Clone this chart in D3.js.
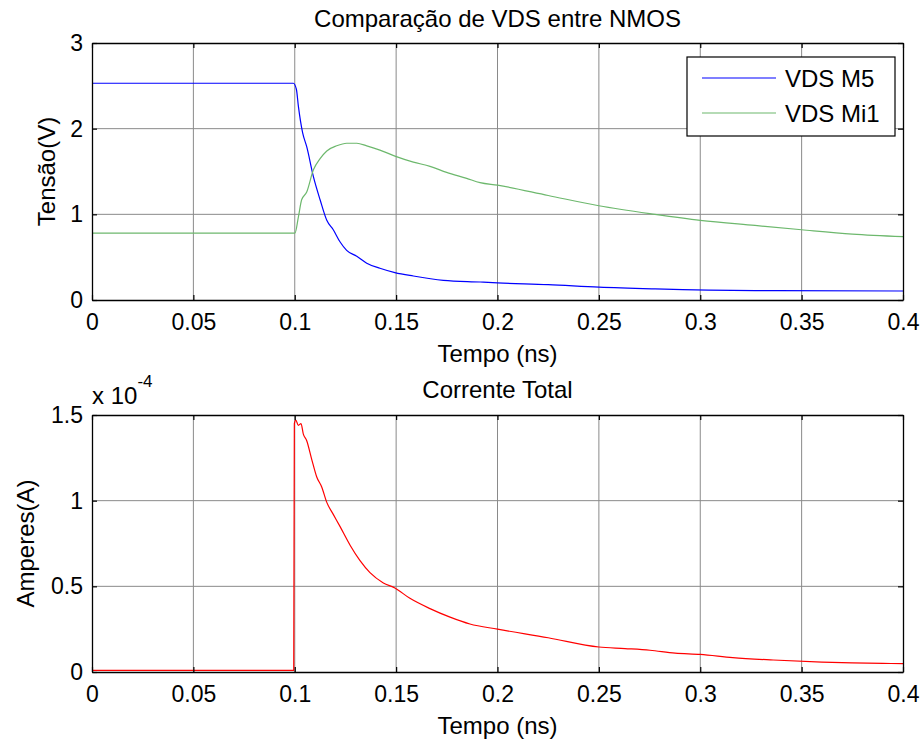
<!DOCTYPE html>
<html>
<head>
<meta charset="utf-8">
<script src="https://cdn.jsdelivr.net/npm/d3@7"></script>
<style>
  body { margin: 0; background: #fff; }
  svg text { font-family: "Liberation Sans", Arial, sans-serif; fill: #000; }
</style>
</head>
<body>
<div id="chart"></div>
<script>
// Werte
const xTicks = [0, 0.05, 0.1, 0.15, 0.2, 0.25, 0.3, 0.35, 0.4];
const yTicksTop = [0, 1, 2, 3];
const yTicksBottom = [0, 0.5, 1, 1.5];

const tM5 = [0, 0.0993, 0.1008, 0.1018, 0.1039, 0.1059, 0.1092, 0.1125, 0.1158, 0.119, 0.1223, 0.1256, 0.1306, 0.1355, 0.142, 0.1494, 0.1585, 0.1733, 0.1914, 0.2, 0.225, 0.25, 0.2777, 0.327, 0.4];
const vM5 = [2.53, 2.53, 2.46, 2.26, 1.95, 1.79, 1.44, 1.17, 0.93, 0.82, 0.68, 0.58, 0.51, 0.43, 0.37, 0.32, 0.28, 0.23, 0.21, 0.2, 0.18, 0.15, 0.13, 0.11, 0.105];

const tMi1 = [0, 0.1001, 0.1018, 0.1034, 0.1059, 0.1092, 0.1125, 0.1158, 0.1207, 0.1256, 0.1306, 0.1355, 0.142, 0.1494, 0.1585, 0.1667, 0.1749, 0.1848, 0.1914, 0.2, 0.225, 0.25, 0.2777, 0.3, 0.327, 0.35, 0.375, 0.4];
const vMi1 = [0.78, 0.78, 0.97, 1.17, 1.26, 1.52, 1.65, 1.74, 1.80, 1.83, 1.83, 1.80, 1.75, 1.68, 1.61, 1.56, 1.49, 1.42, 1.37, 1.34, 1.22, 1.10, 1.0, 0.93, 0.87, 0.82, 0.77, 0.74];

// Strom in Einheiten von 1e-4 A
const tCur = [0, 0.0995, 0.0998, 0.1005, 0.1018, 0.1031, 0.1042, 0.1059, 0.1084, 0.1108, 0.1133, 0.1158, 0.119, 0.1223, 0.1273, 0.1322, 0.1371, 0.1437, 0.1494, 0.1568, 0.1667, 0.1766, 0.1864, 0.2, 0.225, 0.25, 0.2629, 0.2752, 0.2876, 0.3, 0.316, 0.336, 0.36, 0.39, 0.4];
const vCur = [0.01, 0.01, 1.45, 1.47, 1.44, 1.45, 1.39, 1.35, 1.24, 1.14, 1.08, 0.99, 0.92, 0.85, 0.74, 0.65, 0.58, 0.52, 0.49, 0.43, 0.37, 0.32, 0.28, 0.25, 0.2, 0.146, 0.137, 0.127, 0.11, 0.103, 0.084, 0.07, 0.058, 0.05, 0.049];

const width = 923, height = 743;
const left = 92, right = 903;
const fontSize = 24;
const tickFont = 23;

const svg = d3.select("#chart")
  .append("svg")
  .attr("width", width)
  .attr("height", height);

const xScale = d3.scaleLinear().domain([0, 0.4]).range([left, right]);

const zip = (ts, vs) => ts.map((t, i) => ({ t, v: vs[i] }));

const drawPanel = (cfg) => {
  const yScale = d3.scaleLinear().domain(cfg.yDomain).range([cfg.bottom, cfg.top]);
  const g = svg.append("g");

  // Gitterlinien
  g.append("g").selectAll("line")
    .data(xTicks.slice(1, -1))
    .join("line")
    .attr("x1", d => xScale(d)).attr("x2", d => xScale(d))
    .attr("y1", cfg.top).attr("y2", cfg.bottom)
    .attr("stroke", "#8a8a8a").attr("stroke-width", 1);
  g.append("g").selectAll("line")
    .data(cfg.yTicks.slice(1, -1))
    .join("line")
    .attr("x1", left).attr("x2", right)
    .attr("y1", d => yScale(d)).attr("y2", d => yScale(d))
    .attr("stroke", "#8a8a8a").attr("stroke-width", 1);

  // Kurven
  const line = d3.line().x(d => xScale(d.t)).y(d => yScale(d.v)).curve(d3.curveMonotoneX);
  cfg.series.forEach(s => {
    g.append("path")
      .attr("d", line(s.data))
      .attr("fill", "none")
      .attr("stroke", s.color)
      .attr("stroke-width", 1.2);
  });

  // Achsen, Ticks nach innen wie in MATLAB
  const bottomAxis = d3.axisBottom(xScale).tickValues(xTicks).tickSizeInner(-5).tickSizeOuter(0)
    .tickPadding(14).tickFormat(d3.format("~g"));
  const topAxis = d3.axisTop(xScale).tickValues(xTicks).tickSizeInner(-5).tickSizeOuter(0).tickFormat("");
  const leftAxis = d3.axisLeft(yScale).tickValues(cfg.yTicks).tickSizeInner(-5).tickSizeOuter(0)
    .tickPadding(9).tickFormat(d3.format("~g"));
  const rightAxis = d3.axisRight(yScale).tickValues(cfg.yTicks).tickSizeInner(-5).tickSizeOuter(0).tickFormat("");

  const axes = [
    g.append("g").attr("transform", `translate(0,${cfg.bottom})`).call(bottomAxis),
    g.append("g").attr("transform", `translate(0,${cfg.top})`).call(topAxis),
    g.append("g").attr("transform", `translate(${left},0)`).call(leftAxis),
    g.append("g").attr("transform", `translate(${right},0)`).call(rightAxis)
  ];
  axes.forEach(a => {
    a.select(".domain").attr("stroke", "#000").attr("stroke-width", 1.3);
    a.selectAll(".tick line").attr("stroke", "#000").attr("stroke-width", 1.2);
    a.selectAll("text").attr("font-size", tickFont).attr("fill", "#000")
      .attr("font-family", "Liberation Sans, Arial, sans-serif");
  });

  // Titel und Beschriftungen
  g.append("text")
    .attr("x", (left + right) / 2).attr("y", cfg.titleY)
    .attr("text-anchor", "middle").attr("font-size", fontSize)
    .text(cfg.title);
  g.append("text")
    .attr("x", (left + right) / 2).attr("y", cfg.bottom + 62)
    .attr("text-anchor", "middle").attr("font-size", fontSize)
    .text("Tempo (ns)");
  g.append("text")
    .attr("transform", `translate(${cfg.yLabelX},${(cfg.top + cfg.bottom) / 2}) rotate(-90)`)
    .attr("text-anchor", "middle").attr("font-size", fontSize)
    .text(cfg.yLabel);

  return yScale;
};

drawPanel({
  top: 43, bottom: 300, yDomain: [0, 3], yTicks: yTicksTop,
  title: "Comparação de VDS entre NMOS", titleY: 27, yLabel: "Tensão(V)", yLabelX: 55,
  series: [
    { data: zip(tM5, vM5), color: "#0000ff" },
    { data: zip(tMi1, vMi1), color: "#6db86d" }
  ]
});

drawPanel({
  top: 415, bottom: 672, yDomain: [0, 1.5], yTicks: yTicksBottom,
  title: "Corrente Total", titleY: 398, yLabel: "Amperes(A)", yLabelX: 34,
  series: [
    { data: zip(tCur, vCur), color: "#ff0000" }
  ]
});

// Exponent oberhalb der unteren Achse
const expo = svg.append("text").attr("x", 92).attr("y", 404).attr("font-size", fontSize);
expo.append("tspan").text("x 10");
expo.append("tspan").attr("dy", -17).attr("font-size", 17).text("-4");

// Legende
const legendItems = [
  { label: "VDS M5", color: "#0000ff" },
  { label: "VDS Mi1", color: "#6db86d" }
];
const legend = svg.append("g");
legend.append("rect")
  .attr("x", 687).attr("y", 57).attr("width", 208).attr("height", 79)
  .attr("fill", "#fff").attr("stroke", "#000").attr("stroke-width", 1.2);
legend.selectAll("g")
  .data(legendItems)
  .join("g")
  .attr("transform", (d, i) => `translate(0,${78 + i * 35})`)
  .each(function (d) {
    const item = d3.select(this);
    item.append("line").attr("x1", 702).attr("x2", 776).attr("y1", 0).attr("y2", 0)
      .attr("stroke", d.color).attr("stroke-width", 1.2);
    item.append("text").attr("x", 785).attr("y", 9).attr("font-size", fontSize).text(d.label);
  });
</script>
</body>
</html>
